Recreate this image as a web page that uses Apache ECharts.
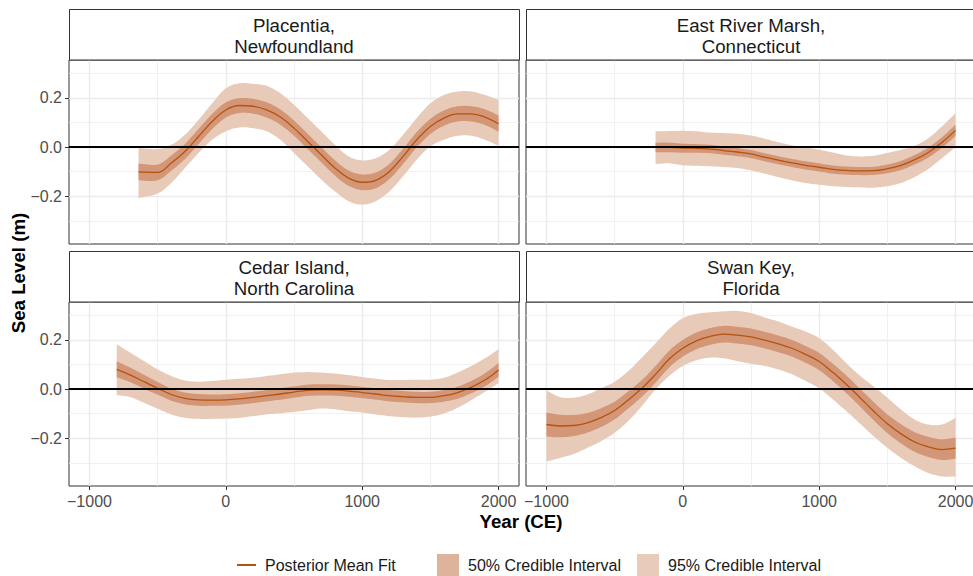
<!DOCTYPE html>
<html>
<head>
<meta charset="utf-8">
<title>Relative sea level, four sites</title>
<script src="https://cdn.jsdelivr.net/npm/echarts@6/dist/echarts.min.js"></script>
<style>
  html, body { margin: 0; padding: 0; background: #ffffff; }
  #chart { width: 973px; height: 576px; }
</style>
</head>
<body>
<div id="chart"></div>
<script>
// ---- Site names (strip labels) ----
const siteNames = [
  'Placentia,\nNewfoundland',
  'East River Marsh,\nConnecticut',
  'Cedar Island,\nNorth Carolina',
  'Swan Key,\nFlorida'
];

// ---- Placentia, Newfoundland ----
const placentiaYear = [-640, -500, -400, -300, -200, -100, 0, 100, 200, 300, 400, 500, 600, 700, 800, 900, 1000, 1100, 1200, 1300, 1400, 1500, 1600, 1700, 1800, 1900, 2000];
const placentiaMean = [-0.101, -0.103, -0.065, -0.018, 0.043, 0.104, 0.151, 0.169, 0.166, 0.151, 0.122, 0.077, 0.023, -0.031, -0.085, -0.126, -0.143, -0.135, -0.099, -0.038, 0.030, 0.084, 0.118, 0.135, 0.135, 0.122, 0.095];
const placentiaHi50 = [-0.067, -0.071, -0.034, 0.013, 0.074, 0.135, 0.182, 0.199, 0.196, 0.182, 0.153, 0.108, 0.054, 0.000, -0.054, -0.095, -0.111, -0.103, -0.068, -0.007, 0.061, 0.115, 0.149, 0.166, 0.166, 0.154, 0.128];
const placentiaLo50 = [-0.135, -0.135, -0.096, -0.049, 0.012, 0.073, 0.120, 0.139, 0.136, 0.120, 0.091, 0.046, -0.008, -0.062, -0.116, -0.157, -0.175, -0.167, -0.130, -0.069, -0.001, 0.053, 0.087, 0.104, 0.104, 0.090, 0.062];
const placentiaHi95 = [-0.004, -0.008, 0.009, 0.050, 0.111, 0.178, 0.239, 0.259, 0.257, 0.249, 0.219, 0.172, 0.118, 0.064, 0.009, -0.038, -0.054, -0.045, -0.011, 0.050, 0.118, 0.178, 0.212, 0.226, 0.226, 0.212, 0.192];
const placentiaLo95 = [-0.207, -0.189, -0.146, -0.085, -0.024, 0.030, 0.064, 0.080, 0.077, 0.064, 0.030, -0.024, -0.078, -0.132, -0.180, -0.220, -0.234, -0.220, -0.180, -0.119, -0.051, 0.003, 0.030, 0.046, 0.046, 0.030, 0.005];

// ---- East River Marsh, Connecticut ----
const eastRiverYear = [-200, -100, 0, 100, 200, 300, 400, 500, 600, 700, 800, 900, 1000, 1100, 1200, 1300, 1400, 1500, 1600, 1700, 1800, 1900, 2000];
const eastRiverMean = [-0.001, -0.001, -0.004, -0.005, -0.008, -0.014, -0.020, -0.028, -0.041, -0.053, -0.064, -0.074, -0.082, -0.091, -0.095, -0.097, -0.096, -0.088, -0.074, -0.051, -0.022, 0.019, 0.068];
const eastRiverHi50 = [0.018, 0.018, 0.014, 0.012, 0.009, 0.003, -0.004, -0.012, -0.025, -0.037, -0.048, -0.058, -0.066, -0.075, -0.079, -0.081, -0.080, -0.071, -0.056, -0.032, -0.002, 0.040, 0.091];
const eastRiverLo50 = [-0.021, -0.021, -0.023, -0.023, -0.025, -0.031, -0.037, -0.045, -0.058, -0.070, -0.081, -0.091, -0.099, -0.108, -0.112, -0.114, -0.113, -0.106, -0.093, -0.071, -0.043, -0.003, 0.045];
const eastRiverHi95 = [0.064, 0.065, 0.066, 0.064, 0.059, 0.057, 0.054, 0.047, 0.034, 0.020, 0.007, -0.001, -0.011, -0.022, -0.034, -0.038, -0.035, -0.024, -0.011, 0.005, 0.036, 0.084, 0.138];
const eastRiverLo95 = [-0.069, -0.066, -0.074, -0.076, -0.078, -0.081, -0.085, -0.095, -0.108, -0.122, -0.135, -0.146, -0.153, -0.159, -0.162, -0.164, -0.165, -0.159, -0.146, -0.122, -0.089, -0.045, 0.000];

// ---- Cedar Island, North Carolina ----
const cedarYear = [-800, -700, -600, -500, -400, -300, -200, -100, 0, 100, 200, 300, 400, 500, 600, 700, 800, 900, 1000, 1100, 1200, 1300, 1400, 1500, 1600, 1700, 1800, 1900, 2000];
const cedarMean = [0.080, 0.057, 0.030, 0.003, -0.022, -0.038, -0.044, -0.045, -0.044, -0.040, -0.034, -0.027, -0.020, -0.012, -0.005, -0.003, -0.004, -0.008, -0.014, -0.020, -0.027, -0.031, -0.034, -0.034, -0.027, -0.014, 0.008, 0.037, 0.078];
const cedarHi50 = [0.113, 0.087, 0.058, 0.029, 0.002, -0.014, -0.020, -0.022, -0.021, -0.017, -0.011, -0.004, 0.003, 0.011, 0.018, 0.020, 0.019, 0.015, 0.009, 0.003, -0.004, -0.008, -0.011, -0.011, -0.004, 0.010, 0.033, 0.064, 0.106];
const cedarLo50 = [0.048, 0.028, 0.002, -0.023, -0.047, -0.062, -0.068, -0.068, -0.067, -0.063, -0.057, -0.050, -0.043, -0.035, -0.028, -0.026, -0.027, -0.031, -0.037, -0.043, -0.050, -0.054, -0.057, -0.057, -0.051, -0.039, -0.017, 0.011, 0.050];
const cedarHi95 = [0.182, 0.148, 0.114, 0.080, 0.053, 0.035, 0.030, 0.033, 0.038, 0.042, 0.046, 0.053, 0.060, 0.067, 0.069, 0.067, 0.063, 0.057, 0.049, 0.042, 0.037, 0.037, 0.038, 0.038, 0.046, 0.067, 0.094, 0.125, 0.162];
const cedarLo95 = [-0.024, -0.033, -0.056, -0.080, -0.103, -0.117, -0.121, -0.121, -0.120, -0.117, -0.110, -0.103, -0.098, -0.093, -0.086, -0.079, -0.082, -0.090, -0.095, -0.103, -0.110, -0.114, -0.116, -0.112, -0.099, -0.076, -0.045, -0.011, 0.024];

// ---- Swan Key, Florida ----
const swanYear = [-1000, -900, -800, -700, -600, -500, -400, -300, -200, -100, 0, 100, 200, 300, 400, 500, 600, 700, 800, 900, 1000, 1100, 1200, 1300, 1400, 1500, 1600, 1700, 1800, 1900, 2000];
const swanMean = [-0.144, -0.150, -0.148, -0.137, -0.116, -0.087, -0.044, 0.003, 0.060, 0.122, 0.166, 0.196, 0.214, 0.223, 0.219, 0.212, 0.199, 0.184, 0.166, 0.141, 0.112, 0.068, 0.019, -0.035, -0.090, -0.141, -0.182, -0.215, -0.235, -0.246, -0.240];
const swanHi50 = [-0.095, -0.104, -0.105, -0.097, -0.078, -0.051, -0.009, 0.037, 0.094, 0.156, 0.200, 0.230, 0.248, 0.257, 0.253, 0.246, 0.233, 0.218, 0.200, 0.175, 0.147, 0.103, 0.055, 0.001, -0.053, -0.103, -0.143, -0.175, -0.194, -0.204, -0.197];
const swanLo50 = [-0.193, -0.196, -0.191, -0.177, -0.154, -0.123, -0.079, -0.031, 0.026, 0.088, 0.132, 0.162, 0.180, 0.189, 0.185, 0.178, 0.165, 0.150, 0.132, 0.107, 0.077, 0.033, -0.017, -0.071, -0.127, -0.179, -0.221, -0.255, -0.276, -0.288, -0.283];
const swanHi95 = [-0.005, -0.033, -0.035, -0.022, 0.003, 0.030, 0.073, 0.128, 0.186, 0.245, 0.288, 0.306, 0.312, 0.316, 0.318, 0.309, 0.291, 0.275, 0.254, 0.234, 0.207, 0.160, 0.105, 0.054, 0.010, -0.035, -0.083, -0.124, -0.144, -0.144, -0.117];
const swanLo95 = [-0.294, -0.280, -0.264, -0.239, -0.212, -0.178, -0.130, -0.069, -0.001, 0.053, 0.094, 0.117, 0.128, 0.125, 0.114, 0.103, 0.094, 0.080, 0.060, 0.033, 0.003, -0.042, -0.090, -0.141, -0.192, -0.239, -0.280, -0.314, -0.341, -0.355, -0.355];

// ---- Axis ticks ----
const yearMajorTicks = [-1000, 0, 1000, 2000];
const yearMinorTicks = [-500, 500, 1500];
const levelMajorTicks = [-0.2, 0, 0.2];
const levelMinorTicks = [-0.3, -0.1, 0.1, 0.3];

// ---- Legend labels ----
const legendLabels = ['Posterior Mean Fit', '50% Credible Interval', '95% Credible Interval'];

// ---------------------------------------------------------------------
const sites = [
  { year: placentiaYear, mean: placentiaMean, hi50: placentiaHi50, lo50: placentiaLo50, hi95: placentiaHi95, lo95: placentiaLo95 },
  { year: eastRiverYear, mean: eastRiverMean, hi50: eastRiverHi50, lo50: eastRiverLo50, hi95: eastRiverHi95, lo95: eastRiverLo95 },
  { year: cedarYear, mean: cedarMean, hi50: cedarHi50, lo50: cedarLo50, hi95: cedarHi95, lo95: cedarLo95 },
  { year: swanYear, mean: swanMean, hi50: swanHi50, lo50: swanLo50, hi95: swanHi95, lo95: swanLo95 }
];

const FONT = '"Liberation Sans", Arial, Helvetica, sans-serif';
const LINE_COLOR = '#b5530f';
const BAND50_COLOR = '#d39677';
const BAND95_COLOR = '#e8cab9';
const KEY50_COLOR = '#deb39b';
const KEY95_COLOR = '#e9cbb9';
const BORDER = '#333333';
const GRID_MAJOR = '#ebebeb';
const GRID_MINOR = '#eeeeee';

// panel layout (2 x 2 facets)
const colLeft = [69, 526];
const panelWidth = 450;
const stripTop = [9.5, 251.5];
const stripHeight = 50.5;
const plotTop = [60, 302];
const plotHeight = 184;

const X_MIN = -1150, X_MAX = 2150;
const Y_MIN = -0.394, Y_MAX = 0.354;

const minus = s => s.replace('-', '\u2212');

// Catmull-Rom interpolation through pixel points, for smooth ribbon edges
function splinePoints(pts, steps) {
  const out = [];
  const n = pts.length;
  for (let i = 0; i < n - 1; i++) {
    const p0 = pts[Math.max(i - 1, 0)], p1 = pts[i], p2 = pts[i + 1], p3 = pts[Math.min(i + 2, n - 1)];
    for (let s = 0; s < steps; s++) {
      const t = s / steps, t2 = t * t, t3 = t2 * t;
      const f = (a, b, c, d) => 0.5 * (2 * b + (-a + c) * t + (2 * a - 5 * b + 4 * c - d) * t2 + (-a + 3 * b - 3 * c + d) * t3);
      out.push([f(p0[0], p1[0], p2[0], p3[0]), f(p0[1], p1[1], p2[1], p3[1])]);
    }
  }
  out.push(pts[n - 1]);
  return out;
}

// ribbon between lo and hi, drawn once per series as one polygon
function ribbon(xs, lo, hi, fill) {
  return function (params, api) {
    if (params.dataIndex !== 0) return null;
    const top = splinePoints(xs.map((x, k) => api.coord([x, hi[k]])), 8);
    const bot = splinePoints(xs.map((x, k) => api.coord([x, lo[k]])), 8).reverse();
    return {
      type: 'polygon', silent: true,
      shape: { points: top.concat(bot) },
      style: { fill: fill, stroke: null }
    };
  };
}

const grids = [], xAxes = [], yAxes = [], series = [], graphics = [];

sites.forEach((site, i) => {
  const col = i % 2, row = Math.floor(i / 2);
  const isBottom = row === 1, isLeft = col === 0;

  grids.push({
    left: colLeft[col], top: plotTop[row], width: panelWidth, height: plotHeight,
    show: true, backgroundColor: '#ffffff', borderColor: BORDER, borderWidth: 1,
    containLabel: false, outerBoundsMode: 'none'
  });

  // main x axis: labels, ticks, major grid lines
  xAxes.push({
    gridIndex: i, type: 'value', position: 'bottom', min: X_MIN, max: X_MAX,
    axisLine: { show: false, onZero: false },
    axisTick: { show: isBottom, customValues: yearMajorTicks, length: 4, lineStyle: { color: BORDER, width: 1 } },
    axisLabel: {
      show: isBottom, customValues: yearMajorTicks, margin: 7,
      color: '#4d4d4d', fontFamily: FONT, fontSize: 16,
      formatter: v => minus(String(v))
    },
    splitLine: { show: true, lineStyle: { color: GRID_MAJOR, width: 1.4 } },
    minorTick: { show: false }, minorSplitLine: { show: false }
  });
  // companion x axis: minor grid lines only
  xAxes.push({
    gridIndex: i, type: 'value', position: 'top', min: X_MIN, max: X_MAX,
    axisLine: { show: false, onZero: false },
    axisTick: { show: false, customValues: yearMinorTicks },
    axisLabel: { show: false },
    splitLine: { show: true, lineStyle: { color: GRID_MINOR, width: 0.8 } }
  });

  yAxes.push({
    gridIndex: i, type: 'value', position: 'left', min: Y_MIN, max: Y_MAX,
    axisLine: { show: false, onZero: false },
    axisTick: { show: isLeft, customValues: levelMajorTicks, length: 4, lineStyle: { color: BORDER, width: 1 } },
    axisLabel: {
      show: isLeft, customValues: levelMajorTicks, margin: 7,
      color: '#4d4d4d', fontFamily: FONT, fontSize: 16,
      formatter: v => minus(Number(v).toFixed(1))
    },
    splitLine: { show: true, lineStyle: { color: GRID_MAJOR, width: 1.4 } }
  });
  yAxes.push({
    gridIndex: i, type: 'value', position: 'right', min: Y_MIN, max: Y_MAX,
    axisLine: { show: false, onZero: false },
    axisTick: { show: false, customValues: levelMinorTicks },
    axisLabel: { show: false },
    splitLine: { show: true, lineStyle: { color: GRID_MINOR, width: 0.8 } }
  });

  const xa = 2 * i, ya = 2 * i;
  const bandData = (lo, hi) => site.year.map((x, k) => [x, lo[k], hi[k]]);

  series.push({
    type: 'custom', name: legendLabels[2], xAxisIndex: xa, yAxisIndex: ya, z: 1,
    silent: true, animation: false,
    itemStyle: { color: KEY95_COLOR },
    encode: { x: 0, y: [1, 2] },
    data: bandData(site.lo95, site.hi95),
    renderItem: ribbon(site.year, site.lo95, site.hi95, BAND95_COLOR)
  });
  series.push({
    type: 'custom', name: legendLabels[1], xAxisIndex: xa, yAxisIndex: ya, z: 2,
    silent: true, animation: false,
    itemStyle: { color: KEY50_COLOR },
    encode: { x: 0, y: [1, 2] },
    data: bandData(site.lo50, site.hi50),
    renderItem: ribbon(site.year, site.lo50, site.hi50, BAND50_COLOR)
  });
  // posterior mean + zero reference line
  series.push({
    type: 'line', name: legendLabels[0], xAxisIndex: xa, yAxisIndex: ya, z: 3,
    symbol: 'none', smooth: 0.4, silent: true, animation: false,
    data: site.year.map((x, k) => [x, site.mean[k]]),
    itemStyle: { color: LINE_COLOR },
    lineStyle: { color: LINE_COLOR, width: 1.3 },
    markLine: {
      silent: true, symbol: ['none', 'none'], animation: false,
      label: { show: false },
      lineStyle: { color: '#000000', width: 1.8, type: 'solid' },
      data: [{ yAxis: 0 }]
    }
  });

  // facet strip
  const sx = colLeft[col], sy = stripTop[row];
  graphics.push({
    type: 'rect', silent: true, z: 10,
    shape: { x: sx + 0.5, y: sy, width: panelWidth, height: stripHeight },
    style: { fill: '#ffffff', stroke: BORDER, lineWidth: 1 }
  });
  graphics.push({
    type: 'text', silent: true, z: 11,
    x: sx + panelWidth / 2, y: sy + stripHeight / 2 + 1,
    style: {
      text: siteNames[i], fill: '#1a1a1a', font: '18.7px ' + FONT,
      align: 'center', verticalAlign: 'middle', lineHeight: 21
    }
  });
});

// axis titles
graphics.push({
  type: 'text', silent: true, x: 521, y: 521,
  style: { text: 'Year (CE)', fill: '#000000', font: 'bold 18.7px ' + FONT, align: 'center', verticalAlign: 'middle' }
});
graphics.push({
  type: 'text', silent: true, x: 18, y: 273, rotation: Math.PI / 2,
  style: { text: 'Sea Level (m)', fill: '#000000', font: 'bold 18.7px ' + FONT, align: 'center', verticalAlign: 'middle' }
});

const legendBase = {
  orient: 'horizontal', padding: 0, selectedMode: false, top: 554, itemHeight: 22,
  symbolKeepAspect: true,
  textStyle: { color: '#1a1a1a', fontFamily: FONT, fontSize: 16, padding: [0, 0, 0, 4] }
};

const option = {
  backgroundColor: '#ffffff',
  animation: false,
  grid: grids,
  xAxis: xAxes,
  yAxis: yAxes,
  series: series,
  graphic: graphics,
  legend: [
    Object.assign({}, legendBase, {
      left: 237, top: 557, itemWidth: 19,
      data: [{ name: legendLabels[0], icon: 'path://M0,0 L19,0 L19,2 L0,2 Z', itemStyle: { color: LINE_COLOR, borderWidth: 0 } }]
    }),
    Object.assign({}, legendBase, {
      left: 437, itemWidth: 22,
      data: [{ name: legendLabels[1], icon: 'rect', itemStyle: { color: KEY50_COLOR, borderWidth: 0, opacity: 1 } }]
    }),
    Object.assign({}, legendBase, {
      left: 637, itemWidth: 22,
      data: [{ name: legendLabels[2], icon: 'rect', itemStyle: { color: KEY95_COLOR, borderWidth: 0, opacity: 1 } }]
    })
  ]
};

const chart = echarts.init(document.getElementById('chart'), null, { renderer: 'svg', width: 973, height: 576 });
chart.setOption(option);
</script>
</body>
</html>
